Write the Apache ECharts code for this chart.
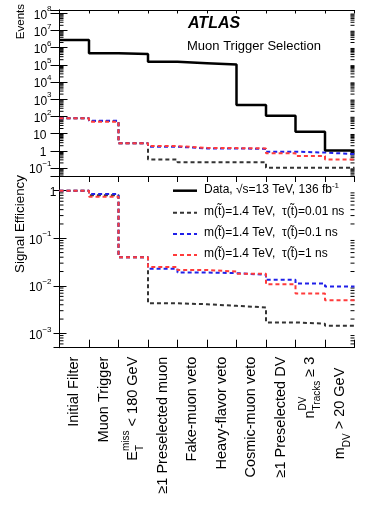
<!DOCTYPE html>
<html><head><meta charset="utf-8">
<script src="https://cdn.jsdelivr.net/npm/echarts@6/dist/echarts.min.js"></script>
<style>html,body{margin:0;padding:0;background:#fff}#c{width:374px;height:519px}</style>
</head><body><div id="c"></div>
<script>
// ---- data ----
const cutLabels = ['{t|Initial Filter}', '{t|Muon Trigger}', '{t|E}{sb0|T}{sp|miss}{t| < 180 GeV}', '{t|\u22651 Preselected muon}',
  '{t|Fake-muon veto}', '{t|Heavy-flavor veto}', '{t|Cosmic-muon veto}', '{t|\u22651 Preselected DV}',
  '{t|n}{sp0|DV}{sb|Tracks}{t| \u2265 3}', '{t|m}{sb|DV}{tp| > 20 GeV}'];
const dataEvents = [2.8e6, 4.7e5, 4.3e5, 1.5e5, 1.25e5, 1.05e5, 470, 111, 13, 1.05];
const sig001Events = [79, 54, 2.8, 0.32, 0.22, 0.22, 0.22, 0.105, 0.105, 0.105];
const sig01Events = [79, 57, 2.8, 1.75, 1.4, 1.4, 1.3, 0.9, 0.8, 0.65];
const sig1Events = [79, 50, 2.8, 1.9, 1.5, 1.45, 1.4, 0.72, 0.5, 0.32];
const eff001 = [1, 0.8, 0.040, 0.0043, 0.0041, 0.0038, 0.0035, 0.0017, 0.0016, 0.00145];
const eff01 = [1, 0.85, 0.040, 0.023, 0.019, 0.0185, 0.017, 0.0134, 0.0112, 0.0097];
const eff1 = [1, 0.75, 0.040, 0.025, 0.0215, 0.020, 0.018, 0.0108, 0.0069, 0.0050];
const legendLabels = ['Data, \u221As=13 TeV, 136 fb{sp|-1}',
  'm(t\u0303)=1.4 TeV,  \u03C4(t\u0303)=0.01 ns',
  'm(t\u0303)=1.4 TeV,  \u03C4(t\u0303)=0.1 ns',
  'm(t\u0303)=1.4 TeV,  \u03C4(t\u0303)=1 ns'];
const topRange = [0.0347, 1.55e8];
const botRange = [5e-4, 2.04];

// ---- helpers ----
const FF = "'Liberation Sans', Arial, Helvetica, sans-serif";
const RED = '#ff3b3b', BLUE = '#2020e8', GREY = '#333333';
function steps(vals) { const d = vals.map((v, i) => [i, v]); d.push([vals.length, vals[vals.length - 1]]); return d; }
function minorVals(lo, hi) {
  const out = [];
  for (let e = Math.floor(Math.log10(lo)); e <= Math.ceil(Math.log10(hi)); e++)
    for (let k = 2; k <= 9; k++) { const v = k * Math.pow(10, e); if (v > lo && v < hi) out.push([0, v]); }
  return out;
}
function minorRender(len) {
  return function (params, api) {
    const v = api.value(1);
    const pl = api.coord([0, v]), pr = api.coord([10, v]);
    return { type: 'group', children: [
      { type: 'line', shape: { x1: pl[0], y1: pl[1], x2: pl[0] + len, y2: pl[1] }, style: { stroke: '#000', lineWidth: 1 } },
      { type: 'line', shape: { x1: pr[0], y1: pr[1], x2: pr[0] - len, y2: pr[1] }, style: { stroke: '#000', lineWidth: 1 } }
    ] };
  };
}
function expFmt(padOne) {
  return function (v) {
    const e = Math.log10(v), r = Math.round(e);
    if (Math.abs(e - r) > 1e-6) return '';
    if (r === 0) return padOne ? '{p|1}' : '{q|1}';
    if (r === 1) return '{p|10}';
    return '{b|10}{s|' + (r < 0 ? '\u2212' + (-r) : r) + '}';
  };
}
const yRich = (sPad) => ({
  b: { fontFamily: FF, fontSize: 12, lineHeight: 16, verticalAlign: 'bottom', color: '#000' },
  s: { fontFamily: FF, fontSize: 8, lineHeight: 8, verticalAlign: 'top', color: '#000', padding: [0, sPad, 0, 0] },
  p: { fontFamily: FF, fontSize: 12, lineHeight: 16, verticalAlign: 'bottom', color: '#000', padding: [0, 5, 0, 0] },
  q: { fontFamily: FF, fontSize: 12, lineHeight: 16, verticalAlign: 'bottom', color: '#000' }
});
const axLine = { show: true, lineStyle: { color: '#000', width: 1 } };
function xVal(grid, pos, tickLen) {
  return { type: 'value', gridIndex: grid, position: pos, min: 0, max: 10, interval: 1,
    axisLine: axLine, axisTick: { show: tickLen > 0, inside: true, length: tickLen, lineStyle: { color: '#000' } },
    axisLabel: { show: false }, splitLine: { show: false } };
}
function yLog(grid, pos, range, tickLen, label) {
  return { type: 'log', logBase: 10, gridIndex: grid, position: pos, min: range[0], max: range[1], splitNumber: 10,
    axisLine: axLine, axisTick: { show: true, inside: true, length: tickLen, lineStyle: { color: '#000' } },
    axisLabel: label || { show: false }, splitLine: { show: false }, minorTick: { show: false } };
}
function stepLine(name, vals, xi, yi, color, dashed, width) {
  return { name, type: 'line', xAxisIndex: xi, yAxisIndex: yi, data: steps(vals), step: 'end', symbol: 'none',
    silent: true, animation: false, clip: true,
    lineStyle: { color, width, type: dashed ? [4, 3] : 'solid', cap: 'butt' } };
}
const base = { fontFamily: FF, color: '#000', align: 'left' };
const lblRich = {
  t: Object.assign({ fontSize: 14.5, lineHeight: 24, verticalAlign: 'middle' }, base),
  tp: Object.assign({ fontSize: 14.5, lineHeight: 24, verticalAlign: 'middle', padding: [0, 11, 0, 0] }, base),
  sb: Object.assign({ fontSize: 10, lineHeight: 10, verticalAlign: 'bottom' }, base),
  sb0: Object.assign({ fontSize: 10, lineHeight: 10, verticalAlign: 'bottom', width: 0 }, base),
  sp: Object.assign({ fontSize: 10, lineHeight: 10, verticalAlign: 'top' }, base),
  sp0: Object.assign({ fontSize: 10, lineHeight: 10, verticalAlign: 'top', width: 0 }, base)
};

const legendY = [190.7, 212.7, 234, 255];
const legendColors = ['#000', GREY, BLUE, RED];
const graphics = [];
legendLabels.forEach((t, i) => {
  graphics.push({ type: 'line', shape: { x1: 173, y1: legendY[i], x2: 197, y2: legendY[i] },
    style: { stroke: legendColors[i], lineWidth: i === 0 ? 2.5 : 2, lineDash: i === 0 ? null : [4, 3] } });
  graphics.push({ type: 'text', x: 204, y: legendY[i] - 1, style: { text: t, fontFamily: FF, fontSize: 12, lineHeight: 16,
    fill: '#000', verticalAlign: 'middle', rich: { sp: { fontFamily: FF, fontSize: 8, lineHeight: 8, verticalAlign: 'top', fill: '#000' } } } });
});
graphics.push({ type: 'text', x: 188, y: 24, style: { text: 'ATLAS', font: 'italic bold 16px ' + FF, fill: '#000', verticalAlign: 'middle' } });
graphics.push({ type: 'text', x: 187, y: 46.7, style: { text: 'Muon Trigger Selection', fontFamily: FF, fontSize: 13, fill: '#000', verticalAlign: 'middle' } });
graphics.push({ type: 'text', x: 21, y: 4, rotation: Math.PI / 2, style: { text: 'Events', fontFamily: FF, fontSize: 11.5, fill: '#000', align: 'right', verticalAlign: 'middle' } });
graphics.push({ type: 'text', x: 20, y: 175, rotation: Math.PI / 2, style: { text: 'Signal Efficiency', fontFamily: FF, fontSize: 13.4, fill: '#000', align: 'right', verticalAlign: 'middle' } });

const option = {
  backgroundColor: '#fff',
  animation: false,
  textStyle: { fontFamily: FF },
  grid: [
    { left: 59.5, top: 10, width: 295, height: 166, containLabel: false },
    { left: 59.5, top: 176, width: 295, height: 171.7, containLabel: false }
  ],
  xAxis: [
    xVal(0, 'bottom', 0),
    xVal(0, 'top', 3.5),
    xVal(1, 'bottom', 8),
    xVal(1, 'top', 6),
    { type: 'category', gridIndex: 1, position: 'bottom', data: cutLabels, boundaryGap: true,
      axisLine: { show: false }, axisTick: { show: false }, splitLine: { show: false },
      axisLabel: { show: true, interval: 0, rotate: 90, margin: 9, fontFamily: FF, fontSize: 14.5, lineHeight: 24, color: '#000', rich: lblRich } }
  ],
  yAxis: [
    yLog(0, 'left', topRange, 8, { show: true, margin: 8, formatter: expFmt(true), rich: yRich(0), fontFamily: FF, fontSize: 12, color: '#000', hideOverlap: false }),
    yLog(0, 'right', topRange, 9),
    yLog(1, 'left', botRange, 7, { show: true, margin: 3, formatter: expFmt(false), rich: yRich(5), fontFamily: FF, fontSize: 12, color: '#000', hideOverlap: false }),
    yLog(1, 'right', botRange, 6)
  ],
  graphic: graphics,
  series: [
    { type: 'custom', xAxisIndex: 0, yAxisIndex: 0, data: minorVals(topRange[0], topRange[1]), renderItem: minorRender(4), silent: true, animation: false, clip: false },
    { type: 'custom', xAxisIndex: 2, yAxisIndex: 2, data: minorVals(botRange[0], botRange[1]), renderItem: minorRender(4), silent: true, animation: false, clip: false },
    stepLine('t001', sig001Events, 0, 0, GREY, true, 2),
    stepLine('t01', sig01Events, 0, 0, BLUE, true, 2),
    stepLine('t1', sig1Events, 0, 0, RED, true, 2),
    stepLine('data', dataEvents, 0, 0, '#000', false, 2.5),
    stepLine('e001', eff001, 2, 2, GREY, true, 2),
    stepLine('e01', eff01, 2, 2, BLUE, true, 2),
    stepLine('e1', eff1, 2, 2, RED, true, 2)
  ]
};
const chart = echarts.init(document.getElementById('c'), null, { renderer: 'canvas' });
chart.setOption(option);
</script>
</body></html>
